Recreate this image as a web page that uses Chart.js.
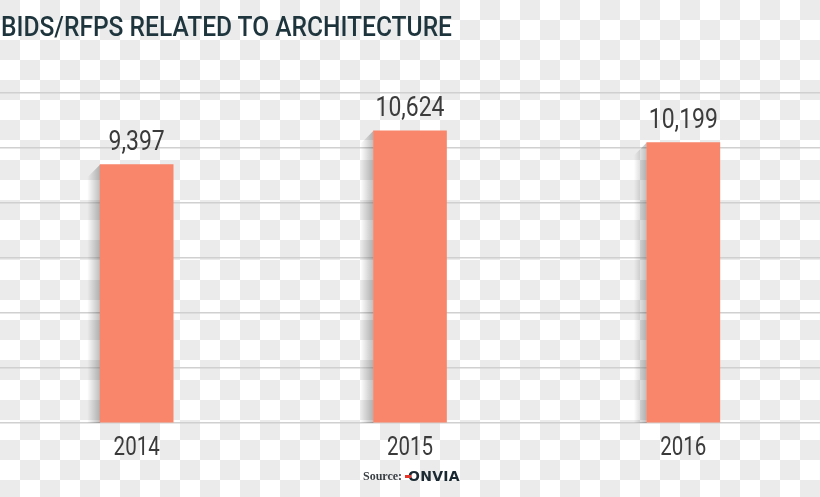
<!DOCTYPE html>
<html>
<head>
<meta charset="utf-8">
<title>Bids/RFPs Related to Architecture</title>
<script src="https://cdn.jsdelivr.net/npm/chart.js"></script>
<style>
  html, body { margin: 0; padding: 0; background: #fff; }
  body { width: 820px; height: 497px; position: relative; overflow: hidden; }
  #chart { position: absolute; left: 0; top: 0; }
  #title {
    position: absolute; left: 1px; top: 14px; z-index: 2;
    font: 500 27px/27px Roboto, sans-serif; color: #1e353d;
    white-space: nowrap; transform-origin: 0 0;
  }
  .src {
    position: absolute; left: 363px; top: 470px; z-index: 2;
    font: bold 12px/13px "Liberation Serif", serif; color: #3a3f44;
  }
  .logo {
    position: absolute; left: 408px; top: 469px; z-index: 2;
    font: bold 14px/14px "DejaVu Sans", sans-serif; color: #1b2a32; letter-spacing: 0.3px;
  }
  .logo-dot {
    position: absolute; left: 405px; top: 475px; width: 6px; height: 3px;
    background: #e8352b; z-index: 3;
  }
</style>
</head>
<body>
  <canvas id="chart" width="820" height="497"></canvas>
  <div id="title">BIDS/RFPS RELATED TO ARCHITECTURE</div>
  <span class="src">Source:</span>
  <span class="logo">ONVIA</span>
  <div class="logo-dot"></div>
  <script>
    // chart data
    const years = ['2014', '2015', '2016'];
    const bids = [9397, 10624, 10199];
    const gridValues = [0, 2000, 4000, 6000, 8000, 10000, 12000];

    // squeeze the title to the narrow look of the original
    const titleEl = document.getElementById('title');
    titleEl.style.transform = 'scaleX(' + (451 / titleEl.getBoundingClientRect().width) + ')';

    // draw text a bit condensed (original uses a narrow face)
    function drawNarrow(c, text, x, y, font) {
      c.save();
      c.font = font;
      c.translate(x, y);
      c.scale(0.82, 1);
      c.fillText(text, 0, 0);
      c.restore();
    }

    // grey/white squares that are baked into the original picture
    const checker = {
      id: 'checker',
      beforeDraw(chart) {
        const c = chart.ctx;
        const size = 20;
        c.save();
        c.fillStyle = '#ffffff';
        c.fillRect(0, 0, chart.width, chart.height);
        c.fillStyle = '#ebebeb';
        for (let y = 0; y < chart.height; y += size) {
          for (let x = 0; x < chart.width; x += size) {
            if (((x + y) / size) % 2 === 0) c.fillRect(x, y, size, size);
          }
        }
        c.restore();
      }
    };

    // soft shadow on the left side of the bars
    const barShadow = {
      id: 'barShadow',
      beforeDatasetsDraw(chart) {
        const c = chart.ctx;
        const bottom = chart.chartArea.bottom;
        c.save();
        chart.getDatasetMeta(0).data.forEach(bar => {
          const left = bar.x - bar.width / 2;
          const w = 13;
          const g = c.createLinearGradient(left - w, 0, left, 0);
          g.addColorStop(0, 'rgba(0,0,0,0)');
          g.addColorStop(1, 'rgba(0,0,0,0.26)');
          c.fillStyle = g;
          c.beginPath();
          c.moveTo(left, bar.y);
          c.lineTo(left, bottom);
          c.lineTo(left - w, bottom);
          c.lineTo(left - w, bar.y + w);
          c.closePath();
          c.fill();
        });
        c.restore();
      }
    };

    // value labels above bars + year labels under them
    const labels = {
      id: 'labels',
      afterDatasetsDraw(chart) {
        const c = chart.ctx;
        const meta = chart.getDatasetMeta(0);
        const xScale = chart.scales.x;
        c.save();
        c.fillStyle = '#3b3b3b';
        c.textAlign = 'center';
        c.textBaseline = 'alphabetic';
        meta.data.forEach((bar, i) => {
          drawNarrow(c, bids[i].toLocaleString('en-US'), bar.x, bar.y - 15, '28px Roboto');
        });
        years.forEach((yr, i) => {
          drawNarrow(c, yr, xScale.getPixelForValue(i), chart.chartArea.bottom + 32, '25px Roboto');
        });
        c.restore();
      }
    };

    const ctx = document.getElementById('chart').getContext('2d');
    new Chart(ctx, {
      type: 'bar',
      data: {
        labels: years,
        datasets: [{
          label: 'Bids/RFPs',
          data: bids,
          backgroundColor: '#f9866a',
          borderWidth: 0,
          barThickness: 73
        }]
      },
      options: {
        responsive: false,
        animation: false,
        layout: { padding: { top: 93, bottom: 74, left: 0, right: 0 } },
        plugins: {
          legend: { display: false },
          tooltip: { enabled: false }
        },
        scales: {
          x: {
            grid: { display: false, drawTicks: false },
            border: { display: false },
            ticks: { display: false }
          },
          y: {
            min: gridValues[0],
            max: gridValues[gridValues.length - 1],
            grid: { color: '#d0d0d0', lineWidth: 1.5, drawTicks: false },
            border: { display: false },
            ticks: { display: false, stepSize: gridValues[1] - gridValues[0] }
          }
        }
      },
      plugins: [checker, barShadow, labels]
    });
  </script>
</body>
</html>
